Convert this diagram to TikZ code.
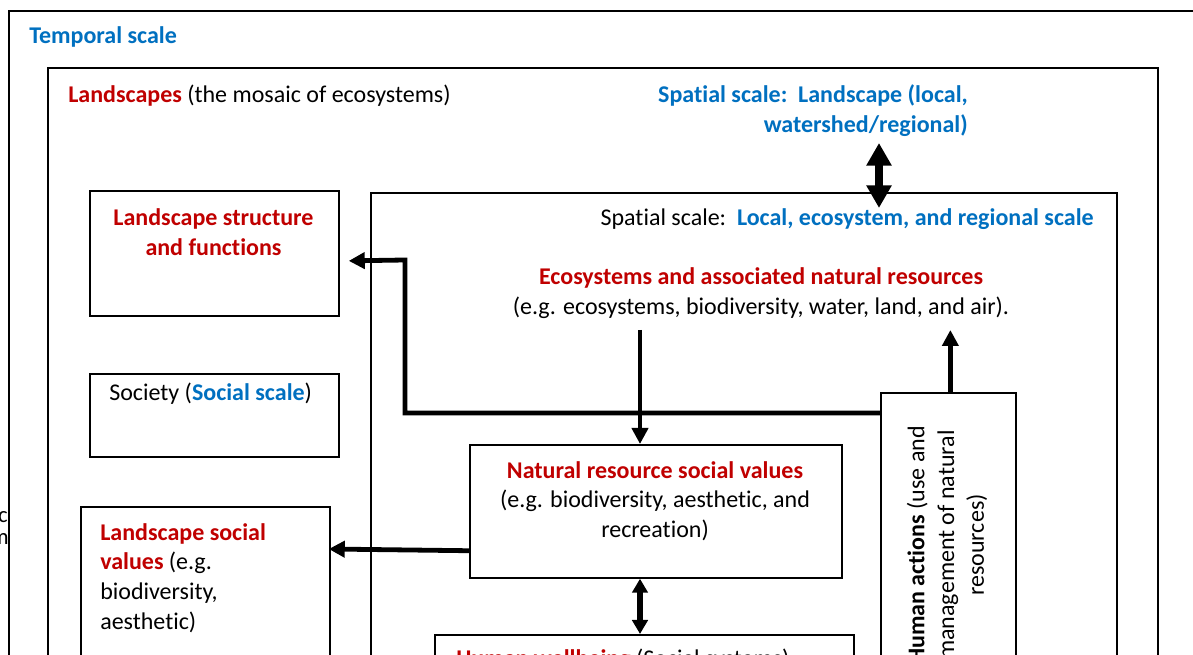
\documentclass[tikz,border=0pt]{standalone}
\usepackage{fontspec}
\setmainfont{Carlito}[Ligatures=NoCommon]
\usetikzlibrary{arrows.meta,calc}
\definecolor{cred}{HTML}{C00000}
\definecolor{cblue}{HTML}{0070C0}
\newcommand{\rd}[1]{\textbf{\textcolor{cred}{#1}}}
\newcommand{\bl}[1]{\textbf{\textcolor{cblue}{#1}}}
\tikzset{
  box/.style={draw, line width=1.3pt, inner sep=0pt, anchor=north west},
  txt/.style={inner sep=0pt, font=\fontsize{18}{22.3}\selectfont},
  thickarrow/.style={line width=3.6pt, -{Triangle[length=12pt,width=12pt]}},
  dblarrow/.style={line width=4.2pt, {Triangle[length=10.5pt,width=11.5pt]}-{Triangle[length=10.5pt,width=11.5pt]}},
  bigdbl/.style={line width=5.5pt, {Triangle[length=17pt,width=18pt]}-{Triangle[length=17pt,width=18pt]}}
}
\begin{document}
\begin{tikzpicture}[x=0.75pt,y=-0.75pt]
\useasboundingbox (0,0) rectangle (1193,655);
\clip (0,0) rectangle (1193,655);
\fill[white] (0,0) rectangle (1193,655);
% outer temporal frame
\draw[line width=1.3pt] (9,700) -- (9,11) -- (1220,11);
\node[txt, anchor=west] (temporal) at (29,37) {\bl{Temporal scale}};
\node[txt, anchor=east, font=\fontsize{17}{18}\selectfont] (fragc) at (8,517) {c};
\node[txt, anchor=east, font=\fontsize{17}{18}\selectfont] (fragm) at (9,539) {m};
% boxes
\node[box, minimum width=832.5pt, minimum height=489.75pt] (ls) at (47,67) {};
\node[box, minimum width=559.5pt, minimum height=375pt] (inner) at (370,192) {};
\node[box, minimum width=186.75pt, minimum height=93.75pt] (struct) at (89,190) {};
\node[box, minimum width=186.75pt, minimum height=62.25pt] (soc) at (89,373) {};
\node[box, minimum width=186.75pt, minimum height=150pt] (lsv) at (80,506) {};
\node[box, minimum width=279pt, minimum height=99.75pt] (nrv) at (469,444) {};
\node[box, minimum width=314.25pt, minimum height=75pt] (hw) at (434,634) {};
\node[box, minimum width=101.25pt, minimum height=225pt] (ha) at (880,392) {};
% texts
\node[txt, anchor=west] (lstitle) at (68,96) {\rd{Landscapes} (the mosaic of ecosystems)};
\node[txt, anchor=east, align=right] (spl) at (968,110.5) {\bl{Spatial scale:\ \ Landscape (local,}\\\bl{watershed/regional)}};
\node[txt, anchor=east] (innertitle) at (1094,219) {Spatial scale:\ \ \bl{Local, ecosystem, and regional scale}};
\node[txt, align=center] (eco) at (761,293.5) {\rd{Ecosystems and associated natural resources}\\(e.g. ecosystems, biodiversity, water, land, and air).};
\node[txt, align=center] (structtxt) at (213.5,232) {\rd{Landscape structure}\\\rd{and functions}};
\node[txt, anchor=west] (soctxt) at (109,394) {Society (\bl{Social scale})};
\node[txt, anchor=west, align=left] (lsvtxt) at (100,578) {\rd{Landscape social}\\\rd{values} (e.g.\\biodiversity,\\aesthetic)};
\node[txt, align=center] (nrvtxt) at (655,501) {\rd{Natural resource social values}\\(e.g. biodiversity, aesthetic, and\\recreation)};
\node[txt, anchor=base west] (hwtxt) at (456,667) {\rd{Human wellbeing} (Social systems)};
\node[txt, align=center, rotate=90] (hatxt) at (947,545) {\textbf{Human actions} (use and\\management of natural\\resources)};
% connectors
\coordinate (spltip) at (879,143);
\coordinate (innertip) at (879,208);
\draw[bigdbl] (spltip) -- (innertip);
\coordinate (ecobot) at (640,330);
\draw[thickarrow] (ecobot) -- ($(nrv.north west)+(171,0)$);
\draw[dblarrow] ($(nrv.south west)+(171,0)$) -- ($(hw.north west)+(206,0)$);
\draw[thickarrow] ($(nrv.south west)+(0,-28)$) -- ($(lsv.north east)+(-2,43)$);
\coordinate (turn) at (405,260);
\draw[thickarrow] ($(ha.north west)+(0,21)$) -| (turn) -- ($(struct.east)+(9,7.5)$);
\coordinate (hatop) at ($(ha.north)+(2,0)$);
\draw[thickarrow] (hatop) -- (hatop |- ecobot);
\end{tikzpicture}
\end{document}
